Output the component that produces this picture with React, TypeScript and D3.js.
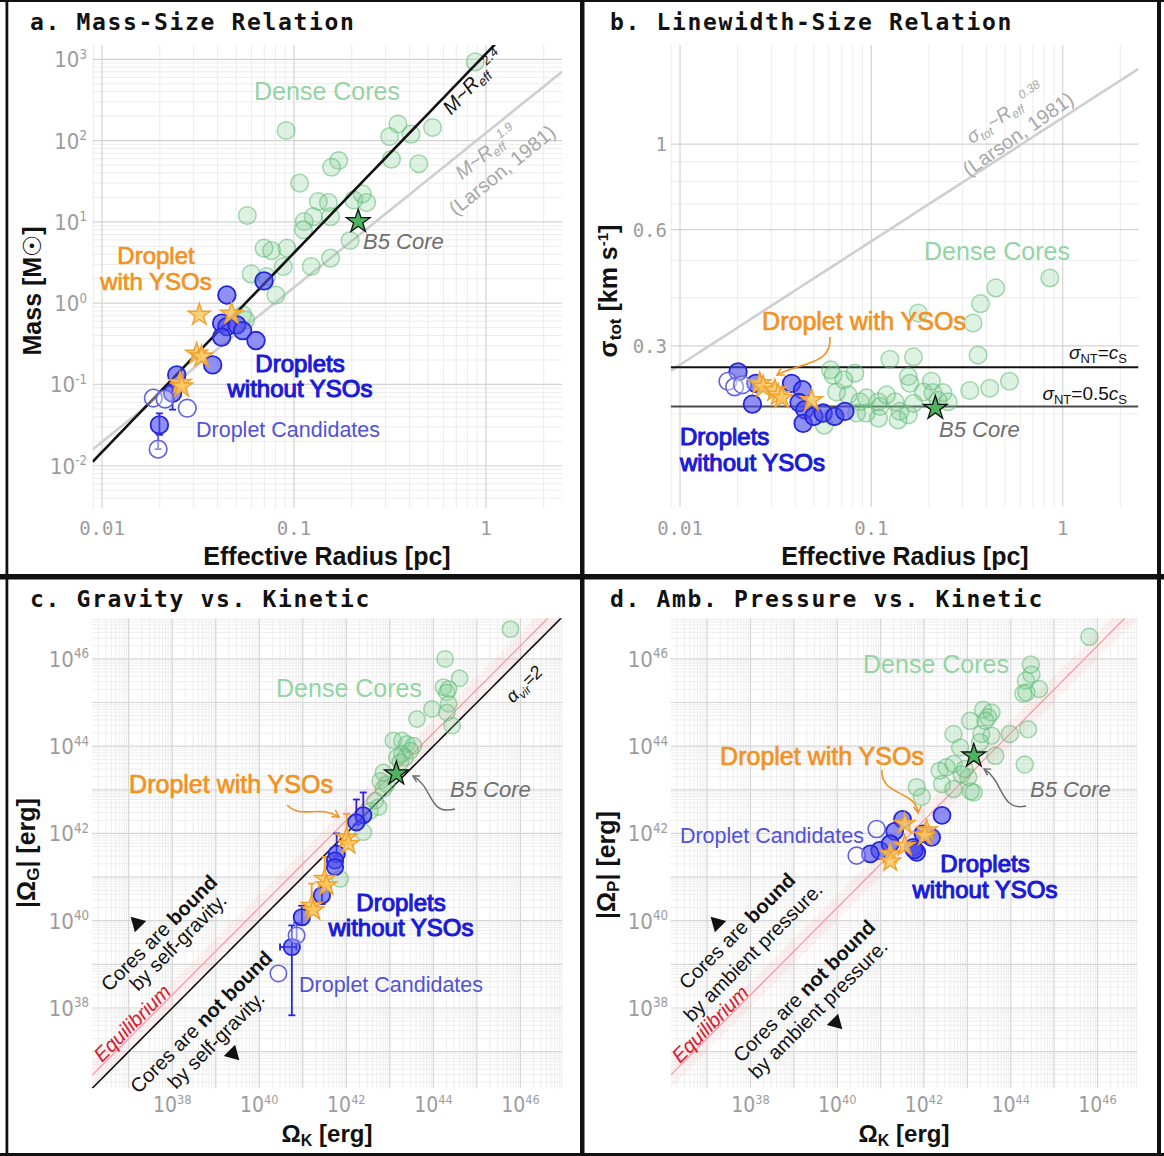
import React from "react";
import * as d3 from "d3";

type P = [number, number];
type E = [number, number, number];

// ===== Panel a: Mass-Size relation (R_eff [pc], M [Msun]) =====
const aDense: P[] = [
  [0.88, 929], [0.091, 133], [0.348, 160], [0.315, 112], [0.407, 120], [0.527, 145],
  [0.171, 57], [0.157, 47], [0.322, 59], [0.447, 52], [0.107, 30], [0.134, 17.8],
  [0.151, 17.3], [0.205, 18.6], [0.227, 22.1], [0.239, 17.3], [0.126, 11.6], [0.113, 10.1],
  [0.155, 11.6], [0.112, 8.0], [0.0571, 12.0], [0.0698, 4.75], [0.0764, 4.43], [0.092, 4.75],
  [0.155, 3.58], [0.196, 5.89], [0.123, 2.82], [0.088, 2.82], [0.0598, 2.29], [0.072, 2.12],
  [0.0805, 1.26], [0.054, 0.72], [0.056, 0.62],
];
const aDroplets: P[] = [
  [0.0698, 1.88], [0.0447, 1.26], [0.042, 0.567], [0.0447, 0.515], [0.0504, 0.541],
  [0.042, 0.382], [0.054, 0.46], [0.0634, 0.347], [0.0377, 0.174], [0.0245, 0.131],
  [0.0233, 0.078], [0.0199, 0.0318],
];
const aDropletErr: E[] = [[0.0233, 0.049, 0.095], [0.0199, 0.024, 0.044]];
const aCandidates: P[] = [[0.0185, 0.068], [0.0213, 0.066], [0.0278, 0.051], [0.0196, 0.016]];
const aCandidateErr: E[] = [[0.0196, 0.016, 0.025]];
const aYSO: P[] = [[0.0321, 0.718], [0.0473, 0.738], [0.0311, 0.238], [0.033, 0.22], [0.0255, 0.104], [0.026, 0.094]];
const aB5: P = [0.216, 10.1];
const aFitLine = { coef: 1172, exp: 2.45 }; // M ~ R^2.4
const aLarsonLine = { coef: 124, exp: 1.9 }; // Larson 1981
const aXTicks = [0.01, 0.1, 1];
const aXTickLabels = ["0.01", "0.1", "1"];
const aYTickExp = [-2, -1, 0, 1, 2, 3];

// ===== Panel b: Linewidth-Size relation (R_eff [pc], sigma_tot [km/s]) =====
const bDense: P[] = [
  [0.857, 0.45], [0.447, 0.424], [0.372, 0.386], [0.34, 0.344], [0.361, 0.284], [0.176, 0.365],
  [0.125, 0.277], [0.166, 0.281], [0.0612, 0.26], [0.0631, 0.252], [0.082, 0.255], [0.0718, 0.245],
  [0.156, 0.25], [0.159, 0.24], [0.206, 0.243], [0.327, 0.23], [0.416, 0.233], [0.527, 0.243],
  [0.0756, 0.224], [0.0658, 0.228], [0.0871, 0.215], [0.0944, 0.22], [0.1086, 0.215], [0.12, 0.224],
  [0.133, 0.215], [0.187, 0.228], [0.21, 0.227], [0.237, 0.227], [0.223, 0.217], [0.252, 0.215],
  [0.141, 0.203], [0.156, 0.199], [0.138, 0.193], [0.111, 0.209], [0.094, 0.201], [0.0837, 0.201],
  [0.063, 0.197], [0.109, 0.195], [0.166, 0.213], [0.0567, 0.187],
];
const bDroplets: P[] = [
  [0.0201, 0.257], [0.0249, 0.24], [0.0239, 0.212], [0.0383, 0.24], [0.0437, 0.231], [0.0419, 0.214],
  [0.0449, 0.205], [0.044, 0.189], [0.0501, 0.197], [0.056, 0.201], [0.0644, 0.197], [0.0727, 0.203],
];
const bCandidates: P[] = [[0.0178, 0.243], [0.0193, 0.235], [0.0212, 0.238]];
const bYSO: P[] = [[0.0261, 0.24], [0.0272, 0.235], [0.0313, 0.23], [0.0326, 0.224], [0.034, 0.22], [0.0487, 0.217]];
const bB5: P = [0.216, 0.207];
const bLarsonLine = { coef: 1.17, exp: 0.32 };
const bSoundLevels = [0.264, 0.209]; // sigma_NT = c_s, sigma_NT = 0.5 c_s
const bYMajor = [0.3, 0.6, 1];
const bYMinor = [0.2, 0.4, 0.5, 0.7, 0.8, 0.9];
const bYTickLabels = ["0.3", "0.6", "1"];

// ===== Panel c: Gravity vs Kinetic (Omega_K [erg], |Omega_G| [erg]) =====
const cDense: P[] = [
  [5.9e45, 4.8e46], [1.86e44, 1.0e46], [4.0e44, 3.6e45], [1.7e44, 2.24e45], [2.24e44, 2.04e45],
  [2.04e44, 1.7e45], [9.3e43, 7.1e44], [4.2e43, 4.2e44], [2.24e44, 9.3e44], [2.04e44, 5.9e44],
  [2.7e44, 2.95e44], [1.2e43, 1.35e44], [1.9e43, 1.35e44], [2.45e43, 1.12e44], [3.5e43, 1.02e44],
  [2.95e43, 7.9e43], [1.9e43, 6.6e43], [2.24e43, 5.5e43], [1.45e43, 5.5e43], [1.74e43, 4.3e43],
  [7.1e42, 2.5e43], [6.0e42, 1.6e43], [8.5e42, 1.35e43], [7.1e42, 1.05e43], [4.6e42, 5.6e42],
  [5.5e42, 4.0e42], [3.5e42, 3.3e42], [2.45e42, 1.07e42], [7.2e41, 9.1e40],
];
const cDroplets: P[] = [
  [2.45e42, 2.6e42], [1.7e42, 1.8e42], [6.0e41, 3.4e41], [5.5e41, 2.4e41], [5.5e41, 1.7e41],
  [2.75e41, 3.8e40], [9.5e40, 1.2e40], [5.6e40, 2.5e39],
];
const cDropletErr: E[] = [
  [2.45e42, 1.9e42, 8.7e42], [1.7e42, 1.6e42, 6.0e42], [6.0e41, 3.0e41, 1.0e42],
  [2.75e41, 2.4e40, 6.0e40], [9.5e40, 8.0e39, 2.2e40], [5.6e40, 6.8e37, 7.8e39],
];
const cDropletXErr: E[] = [[2.5e39, 3.0e40, 7.1e40]];
const cCandidates: P[] = [[7.2e40, 4.6e39], [2.75e40, 6.2e38]];
const cCandidateErr: E[] = [[7.2e40, 3.5e39, 8.9e39]];
const cYSO: P[] = [[1.02e42, 8.1e41], [1.12e42, 5.75e41], [3.2e41, 9.1e40], [3.5e41, 6.5e40], [1.6e41, 2.2e40], [1.74e41, 1.74e40]];
const cYSOErr: E[] = [[1.02e42, 5.8e41, 2.8e42], [3.2e41, 5.9e40, 2.9e41], [1.6e41, 2.0e40, 7.1e40]];
const cB5: P = [1.41e43, 2.34e43];

// ===== Panel d: Ambient pressure vs Kinetic (Omega_K [erg], |Omega_P| [erg]) =====
const dDense: P[] = [
  [6.5e45, 3.2e46], [2.9e44, 7.4e45], [3.0e44, 4.4e45], [2.24e44, 3.2e45], [4.5e44, 2.04e45],
  [1.95e44, 1.6e45], [2.3e44, 1.7e45], [2.3e43, 6.8e44], [3.6e43, 5.9e44], [3.0e43, 4.6e44],
  [2.6e43, 3.8e44], [1.15e43, 3.8e44], [9.5e43, 1.9e44], [2.5e44, 2.45e44], [4.8e42, 1.9e44],
  [2.1e43, 1.9e44], [3.6e43, 1.74e44], [6.8e42, 9.3e43], [1.95e43, 1.23e44], [4.4e43, 6.0e43],
  [2.1e44, 3.8e43], [2.3e42, 2.75e43], [3.3e42, 3.3e43], [4.8e42, 3.9e43], [7.4e42, 2.24e43],
  [1.05e43, 1.95e43], [2.6e42, 1.35e43], [4.8e42, 1.05e43], [1.4e43, 8.7e42], [6.8e41, 1.15e43],
  [8.9e41, 6.9e42], [8.7e42, 3.0e43], [1.2e43, 9.3e42],
];
const dDroplets: P[] = [
  [2.6e42, 2.6e42], [3.2e41, 2.1e42], [2.1e41, 1.12e42], [1.5e42, 8.1e41], [9.5e41, 9.8e41],
  [5.6e41, 4.8e41], [6.8e41, 3.7e41], [6.0e41, 4.2e41], [9.5e40, 4.1e41], [5.8e40, 3.4e41],
  [1.66e41, 5.8e41],
];
const dCandidates: P[] = [[8.1e40, 1.26e42], [2.8e40, 3.1e41]];
const dYSO: P[] = [[3.6e41, 1.66e42], [1.15e42, 1.17e42], [1.05e42, 8.9e41], [3.6e41, 5.2e41], [1.66e41, 3.4e41], [1.66e41, 2.3e41]];
const dB5: P = [1.41e43, 6.0e43];

const energyTickExp = [38, 40, 42, 44, 46];
const equilibriumRatio = 2; // |Omega| = 2 Omega_K
const equilibriumBandDex = 0.3;
const virialLineRatio = 1; // alpha_vir = 2

// ===== styles =====
const SANS = "'Liberation Sans', Arial, Helvetica, sans-serif";
const MONO = "'DejaVu Sans Mono', 'Liberation Mono', monospace";
const NARROW = "'Liberation Sans Narrow', 'DejaVu Sans Condensed', 'Arial Narrow', sans-serif";
const BLUE = "#1a1ad8";
const CAND = "#5252d6";
const ORANGE = "#f2921f";
const GREENTXT = "#93d4a3";
const GREY = "#6f6f6f";
const TICK = "#9c9c9c";

// ===== scales =====
const xA = d3.scaleLog().domain([0.00893, 2.49]).range([92.6, 562]);
const yA = d3.scaleLog().domain([0.00302, 1500]).range([508, 45]);
const xB = d3.scaleLog().domain([0.00894, 2.49]).range([670.7, 1138.5]);
const yB = d3.scaleLog().domain([0.115, 1.805]).range([506.7, 45]);
const xC = d3.scaleLog().domain([1.426e36, 9.12e46]).range([91.9, 562.2]);
const yC = d3.scaleLog().domain([1.445e36, 8.51e46]).range([1088.3, 618.3]);
const xD = d3.scaleLog().domain([1.445e36, 8.32e46]).range([670.7, 1137.4]);
const yD = d3.scaleLog().domain([1.445e36, 8.51e46]).range([1088.3, 618.3]);

type S = d3.ScaleLogarithmic<number, number>;

function logGrid(domain: number[]) {
  const lo = Math.min(domain[0], domain[1]);
  const hi = Math.max(domain[0], domain[1]);
  const out: { v: number; major: boolean }[] = [];
  for (let e = Math.floor(Math.log10(lo)); e <= Math.ceil(Math.log10(hi)); e++) {
    for (let k = 1; k <= 9; k++) {
      const v = k * Math.pow(10, e);
      if (v >= lo && v <= hi) out.push({ v, major: k === 1 });
    }
  }
  return out;
}

function Grid({ x, y, xg, yg, minorColor = "#ececec", majorColor = "#d3d3d3" }: any) {
  const [x0, x1] = x.range();
  const [y0, y1] = y.range();
  const lines: any[] = [];
  xg.filter((t: any) => !t.major).forEach((t: any, i: number) =>
    lines.push(<line key={"xm" + i} x1={x(t.v)} x2={x(t.v)} y1={y0} y2={y1} stroke={minorColor} strokeWidth={1} />));
  yg.filter((t: any) => !t.major).forEach((t: any, i: number) =>
    lines.push(<line key={"ym" + i} y1={y(t.v)} y2={y(t.v)} x1={x0} x2={x1} stroke={minorColor} strokeWidth={1} />));
  xg.filter((t: any) => t.major).forEach((t: any, i: number) =>
    lines.push(<line key={"xM" + i} x1={x(t.v)} x2={x(t.v)} y1={y0} y2={y1} stroke={majorColor} strokeWidth={1.2} />));
  yg.filter((t: any) => t.major).forEach((t: any, i: number) =>
    lines.push(<line key={"yM" + i} y1={y(t.v)} y2={y(t.v)} x1={x0} x2={x1} stroke={majorColor} strokeWidth={1.2} />));
  return <g>{lines}</g>;
}

function powerPath(x: S, y: S, coef: number, exp: number) {
  const [lo, hi] = x.domain();
  const pts = d3.range(0, 61).map((i) => lo * Math.pow(hi / lo, i / 60));
  return d3.line<number>().x((v) => x(v)).y((v) => y(coef * Math.pow(v, exp)))(pts) || "";
}

function bandPath(x: S, y: S, ratio: number, dex: number) {
  const [lo, hi] = x.domain();
  const pts = d3.range(0, 61).map((i) => lo * Math.pow(hi / lo, i / 60));
  return d3.area<number>().x((v) => x(v))
    .y0((v) => y(ratio * v * Math.pow(10, -dex)))
    .y1((v) => y(ratio * v * Math.pow(10, dex)))(pts) || "";
}

const starPath = (size: number) => d3.symbol().type(d3.symbolStar).size(size)() || "";

function Dense({ data, x, y, r }: any) {
  return <g>{data.map((d: P, i: number) => (
    <circle key={i} cx={x(d[0])} cy={y(d[1])} r={r} fill="rgba(125,205,145,0.25)" stroke="rgba(95,185,115,0.55)" strokeWidth={1.5} />
  ))}</g>;
}
function Droplets({ data, x, y, r }: any) {
  return <g>{data.map((d: P, i: number) => (
    <circle key={i} cx={x(d[0])} cy={y(d[1])} r={r} fill="rgba(75,75,238,0.62)" stroke="#2424dc" strokeWidth={1.8} />
  ))}</g>;
}
function Candidates({ data, x, y, r }: any) {
  return <g>{data.map((d: P, i: number) => (
    <circle key={i} cx={x(d[0])} cy={y(d[1])} r={r} fill="rgba(255,255,255,0.35)" stroke="#6262de" strokeWidth={1.6} />
  ))}</g>;
}
function Stars({ data, x, y, size }: any) {
  return <g>{data.map((d: P, i: number) => (
    <path key={i} d={starPath(size)} transform={`translate(${x(d[0])},${y(d[1])})`} fill="rgba(252,200,100,0.85)" stroke="#f0a02c" strokeWidth={1.4} />
  ))}</g>;
}
function B5({ d, x, y }: any) {
  return <path d={starPath(175)} transform={`translate(${x(d[0])},${y(d[1])})`} fill="#4cb35e" stroke="#111" strokeWidth={1.3} />;
}
function VErr({ data, x, y, color, w = 1.8 }: any) {
  return <g>{data.map((e: E, i: number) => {
    const cx = x(e[0]);
    return <g key={i} stroke={color} strokeWidth={w}>
      <line x1={cx} x2={cx} y1={y(e[1])} y2={y(e[2])} />
      <line x1={cx - 3.5} x2={cx + 3.5} y1={y(e[1])} y2={y(e[1])} />
      <line x1={cx - 3.5} x2={cx + 3.5} y1={y(e[2])} y2={y(e[2])} />
    </g>;
  })}</g>;
}
function HErr({ data, x, y, color }: any) {
  return <g>{data.map((e: E, i: number) => {
    const cy = y(e[0]);
    return <g key={i} stroke={color} strokeWidth={1.8}>
      <line y1={cy} y2={cy} x1={x(e[1])} x2={x(e[2])} />
      <line y1={cy - 3.5} y2={cy + 3.5} x1={x(e[1])} x2={x(e[1])} />
      <line y1={cy - 3.5} y2={cy + 3.5} x1={x(e[2])} x2={x(e[2])} />
    </g>;
  })}</g>;
}

function clipRect(id: string, x: S, y: S) {
  const [x0, x1] = x.range();
  const [y0, y1] = y.range();
  return <clipPath id={id}><rect x={x0} y={y1} width={x1 - x0} height={y0 - y1} /></clipPath>;
}

function PowTick({ x, y, e, anchor, fs = 22 }: any) {
  return <text x={x} y={y} textAnchor={anchor} fontFamily={NARROW} fontSize={fs} fill={TICK}>
    10<tspan dy={-8.5} fontSize={fs * 0.6}>{e}</tspan>
  </text>;
}

const Tri = ({ x, y, down }: any) => (
  <path d={down ? "M0,9 L-8,-5 L8,-5 Z" : "M0,-9 L8,5 L-8,5 Z"} transform={`translate(${x},${y}) rotate(-45)`} fill="#111" />
);

export default function App() {
  const medium = (c: string, w = 0.7) => ({ fill: c, stroke: c, strokeWidth: w });
  return (
    <svg width={1164} height={1156} style={{ position: "fixed", left: 0, top: 0, background: "#fff" }} fontFamily={SANS}>
      <defs>
        {clipRect("ca", xA, yA)}
        {clipRect("cb", xB, yB)}
        {clipRect("cc", xC, yC)}
        {clipRect("cd", xD, yD)}
        <marker id="ahO" viewBox="0 0 10 10" refX="8" refY="5" markerWidth="6" markerHeight="6" orient="auto">
          <path d="M1,1 L8,5 L1,9" fill="none" stroke={ORANGE} strokeWidth={1.6} />
        </marker>
        <marker id="ahG" viewBox="0 0 10 10" refX="8" refY="5" markerWidth="6" markerHeight="6" orient="auto">
          <path d="M1,1 L8,5 L1,9" fill="none" stroke={GREY} strokeWidth={1.6} />
        </marker>
      </defs>
      <rect width={1164} height={1156} fill="#fff" />

      {/* ================= Panel a ================= */}
      <Grid x={xA} y={yA} xg={logGrid(xA.domain())} yg={logGrid(yA.domain())} />
      <g clipPath="url(#ca)">
        <path d={powerPath(xA, yA, aLarsonLine.coef, aLarsonLine.exp)} fill="none" stroke="#cfcfcf" strokeWidth={2.6} />
        <Dense data={aDense} x={xA} y={yA} r={8.8} />
        <path d={powerPath(xA, yA, aFitLine.coef, aFitLine.exp)} fill="none" stroke="#111" strokeWidth={2.6} />
        <VErr data={aDropletErr} x={xA} y={yA} color="#2424dc" />
        <VErr data={aCandidateErr} x={xA} y={yA} color="#5a5ad8" />
        <Droplets data={aDroplets} x={xA} y={yA} r={8.8} />
        <Candidates data={aCandidates} x={xA} y={yA} r={8.8} />
        <Stars data={aYSO} x={xA} y={yA} size={150} />
        <B5 d={aB5} x={xA} y={yA} />
      </g>
      {aXTicks.map((t, i) => (
        <text key={i} x={xA(t)} y={535} textAnchor="middle" fontFamily={MONO} fontSize={19} fill={TICK}>{aXTickLabels[i]}</text>
      ))}
      {aYTickExp.map((e) => <PowTick key={e} x={87} y={yA(Math.pow(10, e)) + 8} e={e < 0 ? "-" + -e : e} anchor="end" />)}
      <text x={30} y={30} fontFamily={MONO} fontWeight="bold" fontSize={23} letterSpacing={1.65} fill="#111">a. Mass-Size Relation</text>
      <text x={327} y={565} textAnchor="middle" fontWeight="bold" fontSize={25} fill="#111">Effective Radius [pc]</text>
      <text transform="translate(41,291) rotate(-90)" textAnchor="middle" fontWeight="bold" fontSize={25} fill="#111">Mass [M<tspan fontWeight="normal">☉</tspan>]</text>
      <text x={327} y={100} textAnchor="middle" fontSize={25} fill={GREENTXT}>Dense Cores</text>
      <text x={363} y={249} fontSize={22} fontStyle="italic" fill={GREY}>B5 Core</text>
      <text x={156} y={264} textAnchor="middle" fontSize={24} style={medium(ORANGE)}>Droplet</text>
      <text x={156} y={290} textAnchor="middle" fontSize={24} style={medium(ORANGE)}>with YSOs</text>
      <text x={300} y={372} textAnchor="middle" fontSize={24} style={medium(BLUE, 1.1)}>Droplets</text>
      <text x={300} y={397} textAnchor="middle" fontSize={24} style={medium(BLUE, 1.1)}>without YSOs</text>
      <text x={196} y={437} fontSize={21.5} fill={CAND}>Droplet Candidates</text>
      <text transform="translate(473,82) rotate(-47)" textAnchor="middle" dy="0.35em" fontSize={20} fontStyle="italic" fill="#111">
        M~R<tspan fontSize={13} dy={4}>eff</tspan><tspan fontSize={13} dy={-12}> 2.4</tspan>
      </text>
      <text transform="translate(486,152) rotate(-39)" textAnchor="middle" dy="0.35em" fontSize={19.5} fontStyle="italic" fill="#a8a8a8">
        M~R<tspan fontSize={12.5} dy={4}>eff</tspan><tspan fontSize={12.5} dy={-12}>1.9</tspan>
      </text>
      <text transform="translate(502,170) rotate(-39)" textAnchor="middle" dy="0.35em" fontSize={20} fill="#a8a8a8">(Larson, 1981)</text>

      {/* ================= Panel b ================= */}
      <Grid x={xB} y={yB} xg={logGrid(xB.domain())}
        yg={[...bYMinor.map((v) => ({ v, major: false })), ...bYMajor.map((v) => ({ v, major: true }))]} />
      <g clipPath="url(#cb)">
        <path d={powerPath(xB, yB, bLarsonLine.coef, bLarsonLine.exp)} fill="none" stroke="#cfcfcf" strokeWidth={2.6} />
        <line x1={xB.range()[0]} x2={xB.range()[1]} y1={yB(bSoundLevels[0])} y2={yB(bSoundLevels[0])} stroke="#111" strokeWidth={2} />
        <line x1={xB.range()[0]} x2={xB.range()[1]} y1={yB(bSoundLevels[1])} y2={yB(bSoundLevels[1])} stroke="#4a4a4a" strokeWidth={2} />
        <Dense data={bDense} x={xB} y={yB} r={8.8} />
        <Droplets data={bDroplets} x={xB} y={yB} r={8.8} />
        <Candidates data={bCandidates} x={xB} y={yB} r={8.8} />
        <Stars data={bYSO} x={xB} y={yB} size={150} />
        <B5 d={bB5} x={xB} y={yB} />
      </g>
      {aXTicks.map((t, i) => (
        <text key={i} x={xB(t)} y={535} textAnchor="middle" fontFamily={MONO} fontSize={19} fill={TICK}>{aXTickLabels[i]}</text>
      ))}
      {bYMajor.map((t, i) => (
        <text key={i} x={667} y={yB(t) + 7} textAnchor="end" fontFamily={MONO} fontSize={19} fill={TICK}>{bYTickLabels[i]}</text>
      ))}
      <text x={610} y={30} fontFamily={MONO} fontWeight="bold" fontSize={23} letterSpacing={1.65} fill="#111">b. Linewidth-Size Relation</text>
      <text x={905} y={565} textAnchor="middle" fontWeight="bold" fontSize={25} fill="#111">Effective Radius [pc]</text>
      <text transform="translate(617,291) rotate(-90)" textAnchor="middle" fontWeight="bold" fontSize={25} fill="#111">
        σ<tspan fontSize={17} dy={4}>tot</tspan><tspan dy={-4}> [km s</tspan><tspan fontSize={15} dy={-9}>-1</tspan><tspan dy={9}>]</tspan>
      </text>
      <text transform="translate(1005,113) rotate(-35)" textAnchor="middle" dy="0.35em" fontSize={19} fontStyle="italic" fill="#a8a8a8">
        σ<tspan fontSize={12} dy={4}>tot</tspan><tspan dy={-4}>~R</tspan><tspan fontSize={12} dy={4}>eff</tspan><tspan fontSize={12} dy={-12}> 0.38</tspan>
      </text>
      <text transform="translate(1018,134) rotate(-35)" textAnchor="middle" dy="0.35em" fontSize={20} fill="#a8a8a8">(Larson, 1981)</text>
      <text x={997} y={260} textAnchor="middle" fontSize={25} fill={GREENTXT}>Dense Cores</text>
      <text x={864} y={330} textAnchor="middle" fontSize={25} style={medium(ORANGE)}>Droplet with YSOs</text>
      <path d="M830,337 C832,366 800,362 777,375" fill="none" stroke={ORANGE} strokeWidth={1.6} markerEnd="url(#ahO)" />
      <text x={1127} y={359} textAnchor="end" fontSize={19} fill="#111">
        <tspan fontStyle="italic">σ</tspan><tspan fontSize={13} dy={4}>NT</tspan><tspan dy={-4}>=</tspan><tspan fontStyle="italic">c</tspan><tspan fontSize={13} dy={4}>S</tspan>
      </text>
      <text x={1127} y={400} textAnchor="end" fontSize={19} fill="#111">
        <tspan fontStyle="italic">σ</tspan><tspan fontSize={13} dy={4}>NT</tspan><tspan dy={-4}>=0.5</tspan><tspan fontStyle="italic">c</tspan><tspan fontSize={13} dy={4}>S</tspan>
      </text>
      <text x={939} y={437} fontSize={22} fontStyle="italic" fill={GREY}>B5 Core</text>
      <text x={680} y={445} fontSize={24} style={medium(BLUE, 1.1)}>Droplets</text>
      <text x={680} y={471} fontSize={24} style={medium(BLUE, 1.1)}>without YSOs</text>

      {/* ================= Panel c ================= */}
      <Grid x={xC} y={yC} xg={logGrid(xC.domain())} yg={logGrid(yC.domain())} minorColor="#eeeeee" majorColor="#d6d6d6" />
      <g clipPath="url(#cc)">
        <path d={bandPath(xC, yC, equilibriumRatio, equilibriumBandDex)} fill="rgba(255,120,120,0.09)" stroke="none" />
        <path d={powerPath(xC, yC, equilibriumRatio, 1)} fill="none" stroke="#f0a0a6" strokeWidth={1.3} />
        <path d={powerPath(xC, yC, virialLineRatio, 1)} fill="none" stroke="#111" strokeWidth={1.6} />
        <Dense data={cDense} x={xC} y={yC} r={8.2} />
        <VErr data={cDropletErr} x={xC} y={yC} color="#2424dc" />
        <HErr data={cDropletXErr} x={xC} y={yC} color="#2424dc" />
        <VErr data={cCandidateErr} x={xC} y={yC} color="#5a5ad8" />
        <VErr data={cYSOErr} x={xC} y={yC} color="#f0a02c" />
        <Droplets data={cDroplets} x={xC} y={yC} r={8.2} />
        <Candidates data={cCandidates} x={xC} y={yC} r={8.2} />
        <Stars data={cYSO} x={xC} y={yC} size={135} />
        <B5 d={cB5} x={xC} y={yC} />
      </g>
      {energyTickExp.map((e) => <PowTick key={"cx" + e} x={xC(Math.pow(10, e))} y={1112} e={e} anchor="middle" fs={21} />)}
      {energyTickExp.map((e) => <PowTick key={"cy" + e} x={89} y={yC(Math.pow(10, e)) + 8} e={e} anchor="end" />)}
      <text x={30} y={607} fontFamily={MONO} fontWeight="bold" fontSize={23} letterSpacing={1.65} fill="#111">c. Gravity vs. Kinetic</text>
      <text x={327} y={1142} textAnchor="middle" fontWeight="bold" fontSize={24} fill="#111">
        Ω<tspan fontSize={16} dy={4}>K</tspan><tspan dy={-4}> [erg]</tspan>
      </text>
      <text transform="translate(35,853) rotate(-90)" textAnchor="middle" fontWeight="bold" fontSize={25} fill="#111">
        |Ω<tspan fontSize={17} dy={4}>G</tspan><tspan dy={-4}>| [erg]</tspan>
      </text>
      <text x={349} y={697} textAnchor="middle" fontSize={25} fill={GREENTXT}>Dense Cores</text>
      <text transform="translate(524,684) rotate(-45)" textAnchor="middle" dy="0.35em" fontSize={18} fontStyle="italic" fill="#111">
        α<tspan fontSize={12} dy={4}>vir</tspan><tspan dy={-4}>=2</tspan>
      </text>
      <text x={450} y={797} fontSize={22} fontStyle="italic" fill={GREY}>B5 Core</text>
      <path d="M455,809 C428,816 434,788 413,776" fill="none" stroke={GREY} strokeWidth={1.5} markerEnd="url(#ahG)" />
      <text x={231} y={793} textAnchor="middle" fontSize={25} style={medium(ORANGE)}>Droplet with YSOs</text>
      <path d="M287,805 C302,820 318,804 339,817" fill="none" stroke={ORANGE} strokeWidth={1.6} markerEnd="url(#ahO)" />
      <text x={401} y={911} textAnchor="middle" fontSize={24} style={medium(BLUE, 1.1)}>Droplets</text>
      <text x={401} y={936} textAnchor="middle" fontSize={24} style={medium(BLUE, 1.1)}>without YSOs</text>
      <text x={299} y={992} fontSize={21.5} fill={CAND}>Droplet Candidates</text>
      <g fontSize={20} fill="#111">
        <text transform="translate(159,933) rotate(-45)" textAnchor="middle" dy="0.35em">Cores are <tspan fontWeight="bold">bound</tspan></text>
        <text transform="translate(178,942) rotate(-45)" textAnchor="middle" dy="0.35em">by self-gravity.</text>
        <text transform="translate(201,1022) rotate(-45)" textAnchor="middle" dy="0.35em">Cores are <tspan fontWeight="bold">not bound</tspan></text>
        <text transform="translate(216,1040) rotate(-45)" textAnchor="middle" dy="0.35em">by self-gravity.</text>
      </g>
      <text transform="translate(132,1023) rotate(-45)" textAnchor="middle" dy="0.35em" fontSize={20} fontStyle="italic" fill="#d6172d">Equilibrium</text>
      <Tri x={137} y={923} />
      <Tri x={233} y={1054} down />

      {/* ================= Panel d ================= */}
      <Grid x={xD} y={yD} xg={logGrid(xD.domain())} yg={logGrid(yD.domain())} minorColor="#eeeeee" majorColor="#d6d6d6" />
      <g clipPath="url(#cd)">
        <path d={bandPath(xD, yD, equilibriumRatio, equilibriumBandDex)} fill="rgba(255,120,120,0.09)" stroke="none" />
        <path d={powerPath(xD, yD, equilibriumRatio, 1)} fill="none" stroke="#f0a0a6" strokeWidth={1.3} />
        <Dense data={dDense} x={xD} y={yD} r={8.5} />
        <Droplets data={dDroplets} x={xD} y={yD} r={8.5} />
        <Candidates data={dCandidates} x={xD} y={yD} r={8.5} />
        <Stars data={dYSO} x={xD} y={yD} size={135} />
        <B5 d={dB5} x={xD} y={yD} />
      </g>
      {energyTickExp.map((e) => <PowTick key={"dx" + e} x={xD(Math.pow(10, e))} y={1112} e={e} anchor="middle" fs={21} />)}
      {energyTickExp.map((e) => <PowTick key={"dy" + e} x={668} y={yD(Math.pow(10, e)) + 8} e={e} anchor="end" />)}
      <text x={610} y={607} fontFamily={MONO} fontWeight="bold" fontSize={23} letterSpacing={1.65} fill="#111">d. Amb. Pressure vs. Kinetic</text>
      <text x={904} y={1142} textAnchor="middle" fontWeight="bold" fontSize={24} fill="#111">
        Ω<tspan fontSize={16} dy={4}>K</tspan><tspan dy={-4}> [erg]</tspan>
      </text>
      <text transform="translate(615,865) rotate(-90)" textAnchor="middle" fontWeight="bold" fontSize={25} fill="#111">
        |Ω<tspan fontSize={17} dy={4}>P</tspan><tspan dy={-4}>| [erg]</tspan>
      </text>
      <text x={936} y={673} textAnchor="middle" fontSize={25} fill={GREENTXT}>Dense Cores</text>
      <text x={1030} y={797} fontSize={22} fontStyle="italic" fill={GREY}>B5 Core</text>
      <path d="M1026,806 C1000,812 1004,781 984,769" fill="none" stroke={GREY} strokeWidth={1.5} markerEnd="url(#ahG)" />
      <text x={822} y={765} textAnchor="middle" fontSize={25} style={medium(ORANGE)}>Droplet with YSOs</text>
      <path d="M882,770 C880,796 916,790 918,813" fill="none" stroke={ORANGE} strokeWidth={1.6} markerEnd="url(#ahO)" />
      <text x={864} y={843} textAnchor="end" fontSize={21.5} fill={CAND}>Droplet Candidates</text>
      <text x={985} y={872} textAnchor="middle" fontSize={24} style={medium(BLUE, 1.1)}>Droplets</text>
      <text x={985} y={898} textAnchor="middle" fontSize={24} style={medium(BLUE, 1.1)}>without YSOs</text>
      <g fontSize={20} fill="#111">
        <text transform="translate(737,931) rotate(-45)" textAnchor="middle" dy="0.35em">Cores are <tspan fontWeight="bold">bound</tspan></text>
        <text transform="translate(753,952) rotate(-45)" textAnchor="middle" dy="0.35em">by ambient pressure.</text>
        <text transform="translate(804,991) rotate(-45)" textAnchor="middle" dy="0.35em">Cores are <tspan fontWeight="bold">not bound</tspan></text>
        <text transform="translate(818,1009) rotate(-45)" textAnchor="middle" dy="0.35em">by ambient pressure.</text>
      </g>
      <text transform="translate(710,1024) rotate(-45)" textAnchor="middle" dy="0.35em" fontSize={20} fontStyle="italic" fill="#d6172d">Equilibrium</text>
      <Tri x={717} y={923} />
      <Tri x={836} y={1023} down />

      {/* ================= frames ================= */}
      <g fill="#111">
        <rect x={0} y={0} width={1164} height={2} />
        <rect x={5.5} y={0} width={2.8} height={1156} />
        <rect x={1157} y={0} width={4} height={1156} />
        <rect x={0} y={1153} width={1164} height={3} />
        <rect x={580} y={0} width={4.5} height={1156} />
        <rect x={0} y={574} width={1164} height={5.5} />
      </g>
    </svg>
  );
}
